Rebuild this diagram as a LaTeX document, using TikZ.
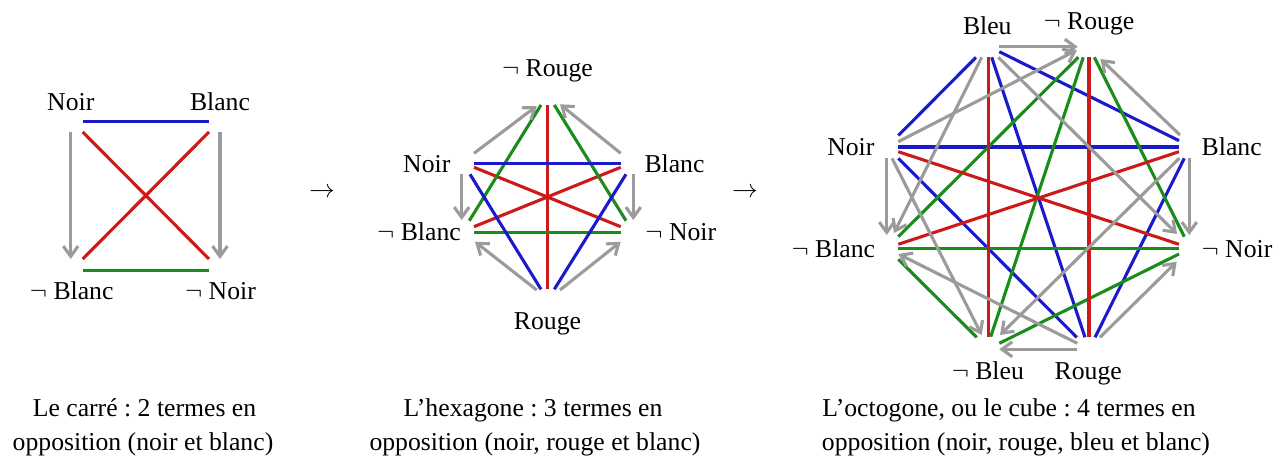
\documentclass[tikz,border=0pt]{standalone}
\usepackage{fontspec}
\setmainfont{Liberation Serif}
\usetikzlibrary{arrows.meta}
\definecolor{cblue}{RGB}{26,26,204}
\definecolor{cred}{RGB}{204,26,26}
\definecolor{cgreen}{RGB}{26,140,26}
\definecolor{cgray}{RGB}{155,155,155}
\frenchspacing
\begin{document}
\begin{tikzpicture}[x=0.389pt, y=-0.389pt,
  every node/.style={inner sep=0pt, font=\fontsize{10}{12}\selectfont},
  lbl/.style={anchor=base},
  ctd/.style={draw=cred, line width=1.2pt},
  ctr/.style={draw=cblue, line width=1.2pt},
  sbc/.style={draw=cgreen, line width=1.2pt},
  sba/.style={draw=cgray, line width=1.2pt, -{Straight Barb[length=4pt,width=5.8pt]}}]
\useasboundingbox (0,0) rectangle (1287,461);
\fill[white] (0,0) rectangle (1287,461);

% ---------------- Square ----------------
\coordinate (sA) at (82.7,132);
\coordinate (sB) at (209,132);
\coordinate (sC) at (82.7,259);
\coordinate (sD) at (209,259);
\node[lbl] (sNoir) at (70.8,110.7) {Noir};
\node[lbl] (sBlanc) at (220,110.7) {Blanc};
\node[lbl] (snBlanc) at (71.7,300) {$\neg$ Blanc};
\node[lbl] (snNoir) at (220.5,300) {$\neg$ Noir};
\draw[ctr] ([shift={(0,-10.3)}]sA) -- ([shift={(0,-10.3)}]sB);
\draw[ctd] (sA) -- (sD);
\draw[ctd] (sB) -- (sC);
\draw[sbc] ([shift={(0,11.7)}]sC) -- ([shift={(0,11.7)}]sD);
\draw[sba] ([shift={(-12,0)}]sA) -- ([shift={(-12,0)}]sC);
\draw[sba] ([shift={(11,0)}]sB) -- ([shift={(11,0)}]sD);

\node (arr1) at (322,193) {$\rightarrow$};
\node (arr2) at (745,193) {$\rightarrow$};

% ---------------- Hexagon ----------------
\coordinate (hT) at (547.7,105);
\coordinate (hNL) at (474,167.3);
\coordinate (hNR) at (620.7,167.3);
\coordinate (hBL) at (474,226.7);
\coordinate (hBR) at (620.7,226.7);
\coordinate (hBot) at (547.7,289.3);
\node[lbl] (hnRouge) at (547.5,76.7) {$\neg$ Rouge};
\node[lbl] (hNoir) at (426.8,172.3) {Noir};
\node[lbl] (hBlanc) at (674.5,172.3) {Blanc};
\node[lbl] (hnBlanc) at (419,240.7) {$\neg$ Blanc};
\node[lbl] (hnNoir) at (680.8,240.7) {$\neg$ Noir};
\node[lbl] (hRouge) at (547.5,330) {Rouge};
\draw[ctd] (hT) -- (hBot);
\draw[ctd] (hNL) -- (hBR);
\draw[ctd] (hNR) -- (hBL);
\draw[sbc] ([shift={(-6.7,0)}]hT) -- ([shift={(-4.7,-6)}]hBL);
\draw[sbc] ([shift={(6.6,0)}]hT) -- ([shift={(5.3,-6)}]hBR);
\draw[sbc] ([shift={(0,5.6)}]hBL) -- ([shift={(0,5.6)}]hBR);
\draw[ctr] ([shift={(0,-4)}]hNL) -- ([shift={(0,-4)}]hNR);
\draw[ctr] ([shift={(-4,7)}]hNL) -- ([shift={(-6.7,0)}]hBot);
\draw[ctr] ([shift={(5.3,7)}]hNR) -- ([shift={(6.6,0)}]hBot);
\draw[sba] ([shift={(0,-14)}]hNL) -- ([shift={(-11,1)}]hT);
\draw[sba] ([shift={(0,-14)}]hNR) -- ([shift={(12.3,-0.7)}]hT);
\draw[sba] ([shift={(-12.3,7)}]hNL) -- ([shift={(-12.3,-6.7)}]hBL);
\draw[sba] ([shift={(12.6,7)}]hNR) -- ([shift={(12.6,-6.7)}]hBR);
\draw[sba] ([shift={(-11,0.7)}]hBot) -- ([shift={(1,15)}]hBL);
\draw[sba] ([shift={(12.3,0.7)}]hBot) -- ([shift={(0,15)}]hBR);

% ---------------- Octagon ----------------
\coordinate (oBl) at (988.3,57.3);
\coordinate (onR) at (1089,57.3);
\coordinate (oN) at (898.3,147);
\coordinate (oB) at (1179,147);
\coordinate (onB) at (898.3,248.3);
\coordinate (onN) at (1179,248.3);
\coordinate (onBl) at (988.3,337.3);
\coordinate (oR) at (1089,337.3);
\node[lbl] (oBleuL) at (987.3,35) {Bleu};
\node[lbl] (onRougeL) at (1089,29.3) {$\neg$ Rouge};
\node[lbl] (oNoirL) at (850.8,156) {Noir};
\node[lbl] (oBlancL) at (1231.7,156) {Blanc};
\node[lbl] (onBlancL) at (833.3,257.3) {$\neg$ Blanc};
\node[lbl] (onNoirL) at (1237,257.3) {$\neg$ Noir};
\node[lbl] (onBleuL) at (987.8,379.3) {$\neg$ Bleu};
\node[lbl] (oRougeL) at (1088.2,379.3) {Rouge};
% contraries (blue)
\draw[ctr] (oN) -- (oB);
\draw[ctr] ([shift={(-12.3,0)}]oBl) -- ([shift={(0,-11.5)}]oN);
\draw[ctr] ([shift={(11,-5.6)}]oBl) -- ([shift={(0,-6.3)}]oB);
\draw[ctr] ([shift={(3.4,0)}]oBl) -- ([shift={(-4,0)}]oR);
\draw[ctr] ([shift={(0,11.3)}]oN) -- ([shift={(-12.3,0)}]oR);
\draw[ctr] ([shift={(5.3,11.3)}]oB) -- ([shift={(6,0)}]oR);
% subcontraries (green)
\draw[sbc] (onB) -- (onN);
\draw[sbc] ([shift={(-10.7,0)}]onR) -- ([shift={(0,-11.6)}]onB);
\draw[sbc] ([shift={(-5.7,0)}]onR) -- ([shift={(2.4,-0.6)}]onBl);
\draw[sbc] ([shift={(5.3,0)}]onR) -- ([shift={(5.3,-11.6)}]onN);
\draw[sbc] ([shift={(0,11)}]onB) -- ([shift={(-11.6,0)}]onBl);
\draw[sbc] ([shift={(0,5.7)}]onN) -- ([shift={(11,6)}]onBl);
% contradictories (red)
\draw[ctd] (oBl) -- (onBl);
\draw[ctd] (onR) -- (oR);
\draw[ctd] ([shift={(0,4.7)}]oN) -- ([shift={(0,-4)}]onN);
\draw[ctd] ([shift={(0,4.7)}]oB) -- ([shift={(0,-4)}]onB);
% subalternations (gray)
\draw[sba] ([shift={(11,-10.6)}]oBl) -- ([shift={(-11.3,-10.6)}]onR);
\draw[sba] ([shift={(0,-5.3)}]oN) -- ([shift={(-12,-7.3)}]onR);
\draw[sba] ([shift={(1,-12)}]oB) -- ([shift={(11.5,1.7)}]onR);
\draw[sba] ([shift={(-6.6,0)}]oBl) -- ([shift={(-4.3,-15.3)}]onB);
\draw[sba] ([shift={(-11.6,11.3)}]oN) -- ([shift={(-11.6,-13.3)}]onB);
\draw[sba] ([shift={(-11.7,6)}]oR) -- ([shift={(0,5.7)}]onB);
\draw[sba] ([shift={(10,0)}]oBl) -- ([shift={(-2,-14.3)}]onN);
\draw[sba] ([shift={(10.3,11.3)}]oB) -- ([shift={(10.3,-13.3)}]onN);
\draw[sba] ([shift={(11,0)}]oR) -- ([shift={(-2.3,13.4)}]onN);
\draw[sba] ([shift={(-6.3,11.3)}]oN) -- ([shift={(-6.6,-2.3)}]onBl);
\draw[sba] ([shift={(0.3,11.3)}]oB) -- ([shift={(11.7,-2.3)}]onBl);
\draw[sba] ([shift={(-11.7,12)}]oR) -- ([shift={(11,12)}]onBl);

% ---------------- Captions ----------------
\node[lbl] (cap1a) at (144.5,416) {Le carré : 2 termes en};
\node[lbl] (cap1b) at (143,450) {opposition (noir et blanc)};
\node[lbl] (cap2a) at (533,416) {L’hexagone : 3 termes en};
\node[lbl] (cap2b) at (535,450) {opposition (noir, rouge et blanc)};
\node[lbl] (cap3a) at (1009,416) {L’octogone, ou le cube : 4 termes en};
\node[lbl] (cap3b) at (1016,450) {opposition (noir, rouge, bleu et blanc)};
\end{tikzpicture}
\end{document}
